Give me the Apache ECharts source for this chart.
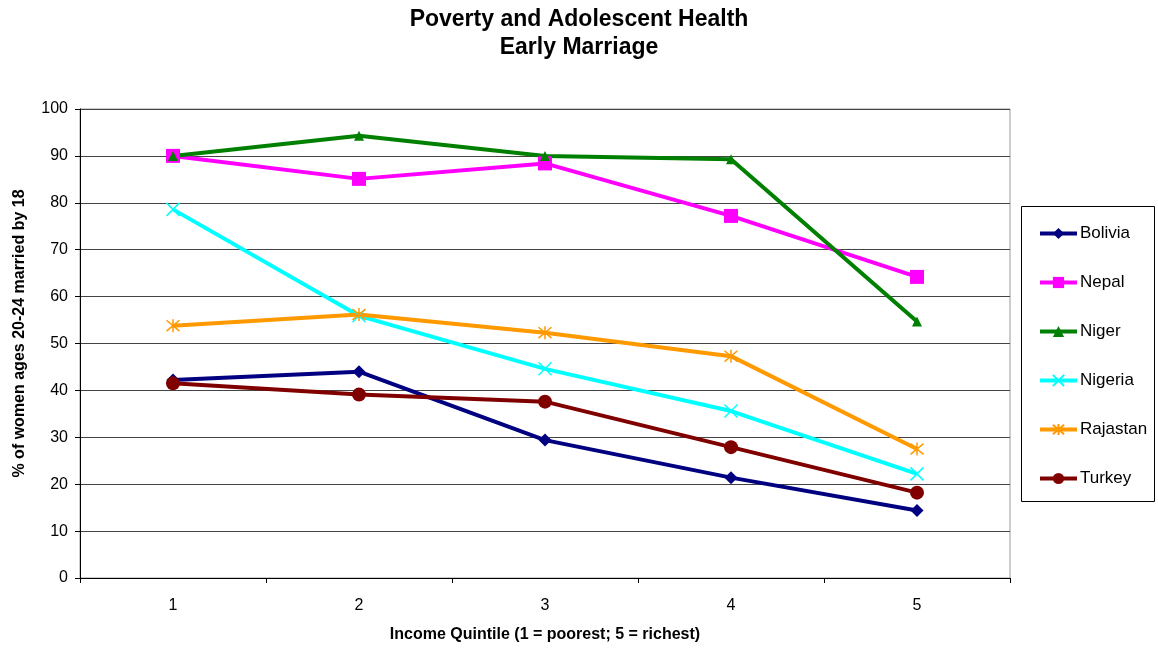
<!DOCTYPE html>
<html>
<head>
<meta charset="utf-8">
<script src="https://cdn.jsdelivr.net/npm/echarts@6/dist/echarts.min.js"></script>
<style>html,body{margin:0;padding:0;background:#fff}#c{width:1158px;height:648px}</style>
</head>
<body>
<div id="c"></div>
<script>
const categories = ['1', '2', '3', '4', '5'];
const bolivia  = [42.2, 44.0, 29.4, 21.4, 14.4];
const nepal    = [90.0, 85.1, 88.4, 77.2, 64.2];
const niger    = [90.0, 94.3, 90.0, 89.3, 54.7];
const nigeria  = [78.6, 55.9, 44.6, 35.6, 22.2];
const rajastan = [53.8, 56.2, 52.3, 47.3, 27.5];
const turkey   = [41.5, 39.1, 37.6, 27.9, 18.2];

const FONT = '"Liberation Sans", Arial, sans-serif';
const X_PATH = 'path://M0,0L10,10M10,0L0,10';
const STAR_PATH = 'path://M0,0L10,10M10,0L0,10M5,-1L5,11';

function mk(name, data, color, symbol, size, stroke) {
  return {
    name, type: 'line', data,
    symbol, symbolSize: size, showSymbol: true,
    lineStyle: { color, width: 4 },
    itemStyle: stroke ? { color: 'rgba(0,0,0,0)', borderColor: color, borderWidth: 1.5 } : { color, borderWidth: 0 },
    emphasis: { disabled: true },
    animation: false
  };
}

const chart = echarts.init(document.getElementById('c'));
chart.setOption({
  animation: false,
  backgroundColor: '#fff',
  title: {
    text: 'Poverty and Adolescent Health\nEarly Marriage',
    left: 'center', top: 6, padding: 0,
    textStyle: { fontFamily: FONT, fontSize: 23, fontWeight: 'bold', color: '#000', lineHeight: 28, align: 'center' }
  },
  grid: { left: 80, right: 148, top: 109, bottom: 70, show: true, borderColor: '#999', borderWidth: 1, outerBoundsMode: 'none', containLabel: false },
  xAxis: {
    type: 'category', data: categories, boundaryGap: true,
    axisLine: { lineStyle: { color: '#000', width: 1 } },
    axisTick: { show: true, length: 5, lineStyle: { color: '#000' } },
    axisLabel: { margin: 20, fontFamily: FONT, fontSize: 16, color: '#000' },
    name: 'Income Quintile (1 = poorest; 5 = richest)', nameLocation: 'middle', nameGap: 49,
    nameTextStyle: { fontFamily: FONT, fontSize: 16, fontWeight: 'bold', color: '#000' }
  },
  yAxis: {
    type: 'value', min: 0, max: 100, interval: 10,
    axisLine: { show: true, lineStyle: { color: '#000', width: 1 } },
    axisTick: { show: true, length: 5, lineStyle: { color: '#000' } },
    axisLabel: { margin: 12, fontFamily: FONT, fontSize: 16, color: '#000' },
    splitLine: { show: true, lineStyle: { color: '#444', width: 1 } },
    name: '% of women ages 20-24 married by 18', nameLocation: 'middle', nameGap: 52,
    nameTextStyle: { fontFamily: FONT, fontSize: 16, fontWeight: 'bold', color: '#000', padding: [0, 0, 0, 20] }
  },
  legend: {
    orient: 'vertical', left: 1038, top: 225, padding: 0,
    itemWidth: 37, itemHeight: 14, itemGap: 32,
    lineStyle: { width: 4 },
    textStyle: { fontFamily: FONT, fontSize: 17, color: '#000', padding: [0, 0, 0, -2] },
    data: ['Bolivia', 'Nepal', 'Niger', 'Nigeria', 'Rajastan', 'Turkey']
  },
  graphic: [{
    type: 'rect', left: 1021, top: 206, silent: true, z: -1,
    shape: { width: 133, height: 295 },
    style: { fill: '#fff', stroke: '#000', lineWidth: 1 }
  }],
  series: [
    mk('Bolivia', bolivia, '#000080', 'diamond', 13),
    mk('Nepal', nepal, '#FF00FF', 'rect', 14),
    mk('Niger', niger, '#008000', 'triangle', 10),
    mk('Nigeria', nigeria, '#00FFFF', X_PATH, 13, true),
    mk('Rajastan', rajastan, '#FF9900', STAR_PATH, 13, true),
    mk('Turkey', turkey, '#800000', 'circle', 14)
  ]
});
</script>
</body>
</html>
